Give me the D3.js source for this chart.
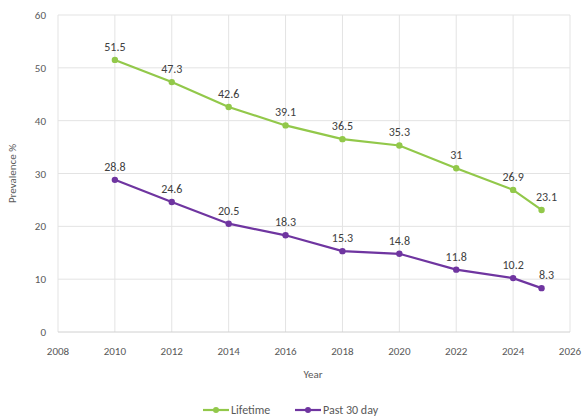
<!DOCTYPE html>
<html>
<head>
<meta charset="utf-8">
<script src="https://cdn.jsdelivr.net/npm/d3@7"></script>
<style>
  body { margin: 0; background: #fff; }
  text { font-family: Carlito, Lato, "Open Sans", sans-serif; }
</style>
</head>
<body>
<svg id="chart" width="585" height="419"></svg>
<script>
// data
const years = [2010, 2012, 2014, 2016, 2018, 2020, 2022, 2024, 2025];
const lifetime = [51.5, 47.3, 42.6, 39.1, 36.5, 35.3, 31, 26.9, 23.1];
const past30 = [28.8, 24.6, 20.5, 18.3, 15.3, 14.8, 11.8, 10.2, 8.3];
const xTicks = [2008, 2010, 2012, 2014, 2016, 2018, 2020, 2022, 2024, 2026];
const yTicks = [0, 10, 20, 30, 40, 50, 60];

const series = [
  { name: 'Lifetime', values: lifetime, color: '#92c84a' },
  { name: 'Past 30 day', values: past30, color: '#6f35a0' }
];

const svg = d3.select('#chart');
const x = d3.scaleLinear().domain([2008, 2026]).range([58, 570]);
const y = d3.scaleLinear().domain([0, 60]).range([332, 15]);

// grid
svg.append('g').selectAll('line.v').data(xTicks).enter().append('line')
  .attr('x1', d => x(d)).attr('x2', d => x(d))
  .attr('y1', y(60)).attr('y2', y(0))
  .attr('stroke', '#e3e3e3').attr('stroke-width', 1);
svg.append('g').selectAll('line.h').data(yTicks).enter().append('line')
  .attr('x1', x(2008)).attr('x2', x(2026))
  .attr('y1', d => y(d)).attr('y2', d => y(d))
  .attr('stroke', d => d === 0 ? '#d0d0d0' : '#e3e3e3').attr('stroke-width', 1);

// axis labels
svg.append('g').selectAll('text').data(yTicks).enter().append('text')
  .attr('x', 46).attr('y', d => y(d) + 4)
  .attr('text-anchor', 'end').attr('font-size', 11).attr('fill', '#595959')
  .text(d => d);
svg.append('g').selectAll('text').data(xTicks).enter().append('text')
  .attr('x', d => x(d)).attr('y', 355)
  .attr('text-anchor', 'middle').attr('font-size', 11).attr('fill', '#595959')
  .text(d => d);

svg.append('text')
  .attr('transform', `translate(16, ${(y(0) + y(60)) / 2}) rotate(-90)`)
  .attr('text-anchor', 'middle').attr('font-size', 11).attr('fill', '#595959')
  .text('Prevalence %');
svg.append('text')
  .attr('x', 313).attr('y', 378)
  .attr('text-anchor', 'middle').attr('font-size', 11).attr('fill', '#595959')
  .text('Year');

// lines + points + labels
const line = d3.line().x((d, i) => x(years[i])).y(d => y(d));
series.forEach(s => {
  const g = svg.append('g');
  g.append('path').datum(s.values)
    .attr('d', line).attr('fill', 'none')
    .attr('stroke', s.color).attr('stroke-width', 2.2);
  g.selectAll('circle').data(s.values).enter().append('circle')
    .attr('cx', (d, i) => x(years[i])).attr('cy', d => y(d))
    .attr('r', 3.2).attr('fill', s.color);
  g.selectAll('text').data(s.values).enter().append('text')
    .attr('x', (d, i) => x(years[i]) + (years[i] === 2025 ? 5 : 0))
    .attr('y', d => y(d) - 9)
    .attr('text-anchor', 'middle').attr('font-size', 12).attr('fill', '#404040')
    .text(d => d);
});

// legend
const legend = svg.append('g').attr('transform', 'translate(0, 410)');
const legendX = [203, 295];
series.forEach((s, i) => {
  const lg = legend.append('g').attr('transform', `translate(${legendX[i]}, 0)`);
  lg.append('line').attr('x1', 0).attr('x2', 26).attr('y1', 0).attr('y2', 0)
    .attr('stroke', s.color).attr('stroke-width', 2.2);
  lg.append('circle').attr('cx', 13).attr('cy', 0).attr('r', 3).attr('fill', s.color);
  lg.append('text').attr('x', 28).attr('y', 4)
    .attr('font-size', 12).attr('fill', '#595959').text(s.name);
});
</script>
</body>
</html>
